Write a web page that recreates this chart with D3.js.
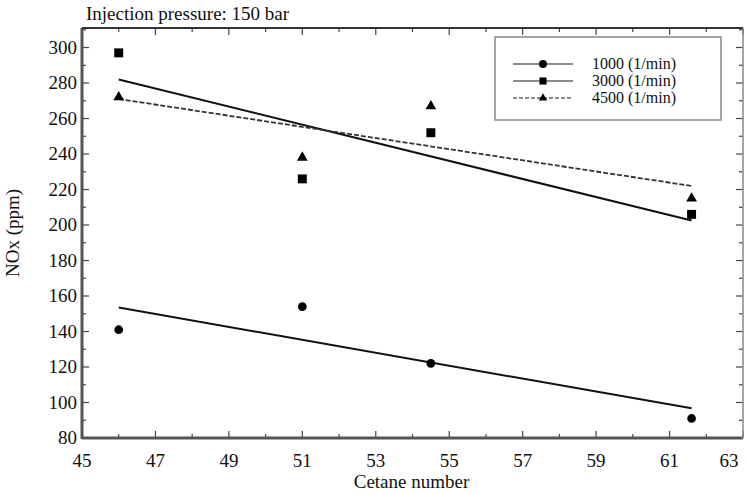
<!DOCTYPE html>
<html>
<head>
<meta charset="utf-8">
<script src="https://cdn.jsdelivr.net/npm/d3@7"></script>
<style>
body { margin: 0; background: white; }
svg text { font-family: "Liberation Serif", "DejaVu Serif", serif; fill: #111; }
</style>
</head>
<body>
<svg id="chart" width="746" height="494"></svg>
<script>

// cetane numbers of the four fuels
var cetane = [46, 51, 54.5, 61.6];

// NOx readings (ppm) per engine speed
var nox1000 = [141, 154, 122, 91];
var nox3000 = [297, 226, 252, 206];
var nox4500 = [272, 238, 267, 215];

// trend line ends
var fitX = [46, 61.6];
var fit1000 = [153.5, 96.7];
var fit3000 = [282, 202.5];
var fit4500 = [271, 222];

var seriesNames = ["1000 (1/min)", "3000 (1/min)", "4500 (1/min)"];
var xTicks = [45, 47, 49, 51, 53, 55, 57, 59, 61, 63];
var yTicks = [80, 100, 120, 140, 160, 180, 200, 220, 240, 260, 280, 300];

var svg = d3.select("#chart");
var pL = 82, pR = 743, pT = 28, pB = 438;

var x = d3.scaleLinear().domain([45, 63]).range([pL, pR]);
var y = d3.scaleLinear().domain([80, 311]).range([pB, pT]);

// minor / major ticks, pointing inward on all four sides
var frame = svg.append("g").attr("stroke", "#444");
d3.range(45, 64, 1).forEach(function(v){
  var len = (v % 2 == 1) ? 7 : 4;
  frame.append("line").attr("x1", x(v)).attr("x2", x(v)).attr("y1", pB).attr("y2", pB - len).attr("stroke-width", 1.2);
  frame.append("line").attr("x1", x(v)).attr("x2", x(v)).attr("y1", pT).attr("y2", pT + len).attr("stroke-width", 1.2);
});
d3.range(80, 311, 10).forEach(function(v){
  var len = (v % 20 == 0) ? 7 : 4;
  frame.append("line").attr("x1", pL).attr("x2", pL + len).attr("y1", y(v)).attr("y2", y(v)).attr("stroke-width", 1.2);
  frame.append("line").attr("x1", pR).attr("x2", pR - len).attr("y1", y(v)).attr("y2", y(v)).attr("stroke-width", 1.2);
});

// frame
svg.append("line").attr("x1", pL).attr("x2", pL).attr("y1", pT).attr("y2", pB + 1).attr("stroke", "#555").attr("stroke-width", 3);
svg.append("line").attr("x1", pL).attr("x2", pR).attr("y1", pB).attr("y2", pB).attr("stroke", "#555").attr("stroke-width", 3);
svg.append("line").attr("x1", pL).attr("x2", pR).attr("y1", pT).attr("y2", pT).attr("stroke", "#333").attr("stroke-width", 2);
svg.append("line").attr("x1", pR).attr("x2", pR).attr("y1", pT).attr("y2", pB).attr("stroke", "#888").attr("stroke-width", 1.5);

// tick labels
svg.selectAll("text.xt").data(xTicks).enter().append("text")
  .attr("class", "xt")
  .attr("x", function(d){ return Math.min(x(d), 729); })
  .attr("y", 467)
  .attr("text-anchor", "middle")
  .attr("font-size", "19px")
  .text(function(d){ return d; });

svg.selectAll("text.yt").data(yTicks).enter().append("text")
  .attr("class", "yt")
  .attr("x", pL - 5)
  .attr("y", function(d){ return y(d) + 6; })
  .attr("text-anchor", "end")
  .attr("font-size", "19px")
  .text(function(d){ return d; });

// axis titles
svg.append("text").attr("x", (pL + pR) / 2 - 1).attr("y", 488)
  .attr("text-anchor", "middle").attr("font-size", "19px").text("Cetane number");
svg.append("text").attr("transform", "translate(19," + ((pT + pB) / 2) + ") rotate(-90)")
  .attr("text-anchor", "middle").attr("font-size", "19px").text("NOx (ppm)");
svg.append("text").attr("x", 86).attr("y", 20).attr("font-size", "19px").text("Injection pressure: 150 bar");

// trend lines
var line = d3.line().x(function(d){ return x(d[0]); }).y(function(d){ return y(d[1]); });
function fitPts(f){ return fitX.map(function(v, i){ return [v, f[i]]; }); }

svg.append("path").attr("d", line(fitPts(fit1000))).attr("fill", "none").attr("stroke", "#111").attr("stroke-width", 2);
svg.append("path").attr("d", line(fitPts(fit3000))).attr("fill", "none").attr("stroke", "#111").attr("stroke-width", 2);
svg.append("path").attr("d", line(fitPts(fit4500))).attr("fill", "none").attr("stroke", "#333").attr("stroke-width", 1.8).attr("stroke-dasharray", "5,2");

// markers
var sym = [d3.symbolCircle, d3.symbolSquare, d3.symbolTriangle];
var sizes = [60, 80, 50];
[nox1000, nox3000, nox4500].forEach(function(vals, k){
  svg.selectAll("path.m" + k).data(vals).enter().append("path")
    .attr("class", "m" + k)
    .attr("transform", function(d, i){ return "translate(" + x(cetane[i]) + "," + y(d) + ")"; })
    .attr("d", d3.symbol().type(sym[k]).size(sizes[k]))
    .attr("fill", "#000");
});

// legend
var lg = svg.append("g");
lg.append("rect").attr("x", 495).attr("y", 37).attr("width", 226).attr("height", 83)
  .attr("fill", "white").attr("stroke", "#888").attr("stroke-width", 1.5);
var rowsY = [64, 81, 98];
seriesNames.forEach(function(name, k){
  lg.append("line").attr("x1", 513).attr("x2", 573).attr("y1", rowsY[k]).attr("y2", rowsY[k])
    .attr("stroke", "#666").attr("stroke-width", 1.3)
    .attr("stroke-dasharray", k == 2 ? "4,2" : null);
  lg.append("path").attr("transform", "translate(543," + rowsY[k] + ")")
    .attr("d", d3.symbol().type(sym[k]).size(k == 2 ? 30 : 50)).attr("fill", "#000");
  lg.append("text").attr("x", 592).attr("y", rowsY[k] + 5).attr("font-size", "16px").text(name);
});

</script>
</body>
</html>
